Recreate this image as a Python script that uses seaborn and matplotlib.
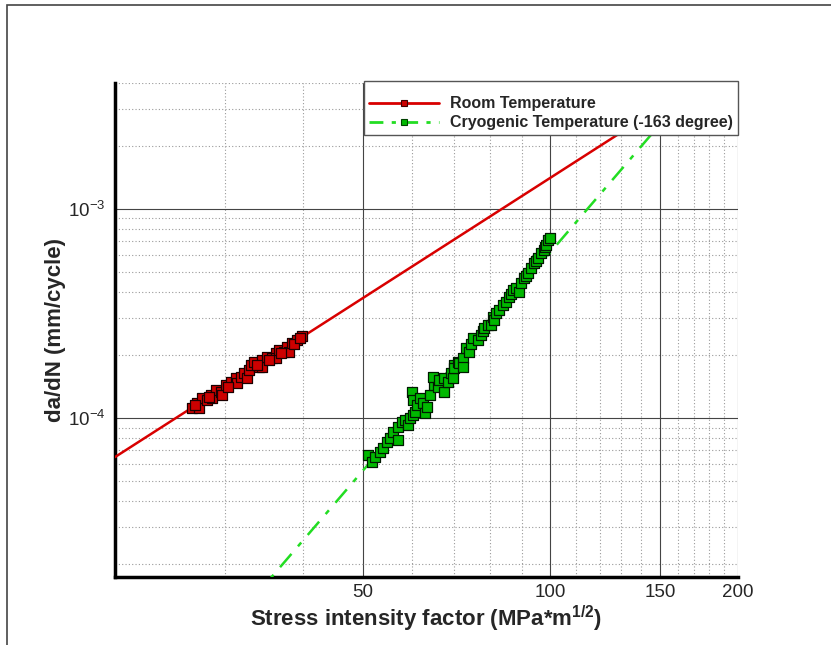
import matplotlib
matplotlib.use('Agg')
import matplotlib.pyplot as plt
from matplotlib.lines import Line2D
from matplotlib.patches import Rectangle
from matplotlib.ticker import FixedLocator, NullFormatter, LogLocator
import pandas as pd
import seaborn as sns

# room temperature test data (delta K, da/dN)
room_k = [26.54, 27.04, 27.24, 27.55, 28.07, 28.49, 28.60, 29.03, 29.57, 29.69,
          30.12, 30.69, 31.27, 31.39, 31.85, 32.22, 32.58, 32.82, 33.07, 33.44,
          34.07, 34.45, 34.45, 35.10, 35.76, 36.29, 36.29, 36.70, 37.39, 37.81,
          38.09, 38.52, 39.25, 39.99,
          26.90, 28.30, 30.40, 33.80, 35.40, 37.00, 38.80, 39.60]
room_rate = [1.116e-4, 1.180e-4, 1.116e-4, 1.247e-4, 1.219e-4, 1.289e-4, 1.247e-4, 1.361e-4, 1.332e-4, 1.289e-4,
             1.439e-4, 1.487e-4, 1.554e-4, 1.470e-4, 1.571e-4, 1.642e-4, 1.554e-4, 1.697e-4, 1.793e-4, 1.853e-4,
             1.754e-4, 1.894e-4, 1.754e-4, 1.958e-4, 1.937e-4, 2.046e-4, 1.937e-4, 2.115e-4, 2.069e-4, 2.186e-4,
             2.069e-4, 2.285e-4, 2.361e-4, 2.468e-4,
             1.150e-4, 1.260e-4, 1.400e-4, 1.800e-4, 1.900e-4, 2.050e-4, 2.250e-4, 2.400e-4]

# cryogenic (-163 C) test data
cryo_k = [50.94, 51.71, 52.28, 53.27, 53.87, 54.67, 55.29, 55.91, 56.96, 56.96,
          57.82, 58.48, 59.13, 59.58, 60.24, 60.69, 60.02, 60.24, 61.15, 61.83,
          62.53, 62.99, 63.47, 64.18, 64.91, 64.67, 65.88, 66.13, 67.36, 67.36,
          68.38, 69.15, 69.66, 69.92, 69.92, 70.97, 71.23, 72.30, 72.30, 73.11,
          73.94, 74.50, 75.05, 76.47, 77.32, 77.80, 78.20, 79.36, 80.27, 80.87,
          81.30, 81.78, 82.69, 83.94, 84.89, 85.84, 86.50, 87.13, 88.10, 89.09,
          89.74, 90.76, 91.40, 92.13, 93.16, 94.21, 94.90, 95.63, 96.69, 97.79,
          98.00, 98.51, 99.24, 100.0]
cryo_rate = [6.65e-5, 6.16e-5, 6.51e-5, 6.88e-5, 7.19e-5, 7.68e-5, 8.02e-5, 8.57e-5, 7.85e-5, 9.06e-5,
             9.57e-5, 9.78e-5, 9.26e-5, 1.000e-4, 1.034e-4, 1.068e-4, 1.332e-4, 1.219e-4, 1.154e-4, 1.247e-4,
             1.180e-4, 1.057e-4, 1.129e-4, 1.289e-4, 1.439e-4, 1.571e-4, 1.407e-4, 1.520e-4, 1.332e-4, 1.554e-4,
             1.487e-4, 1.642e-4, 1.554e-4, 1.793e-4, 1.735e-4, 1.853e-4, 1.833e-4, 1.937e-4, 1.754e-4, 2.162e-4,
             2.069e-4, 2.250e-4, 2.414e-4, 2.361e-4, 2.495e-4, 2.600e-4, 2.696e-4, 2.786e-4, 2.786e-4, 3.043e-4,
             2.950e-4, 3.180e-4, 3.287e-4, 3.473e-4, 3.589e-4, 3.794e-4, 3.900e-4, 4.097e-4, 4.188e-4, 4.008e-4,
             4.425e-4, 4.677e-4, 4.800e-4, 4.941e-4, 5.221e-4, 5.516e-4, 5.650e-4, 5.830e-4, 6.160e-4, 6.366e-4,
             6.600e-4, 6.727e-4, 7.108e-4, 7.266e-4]

# fitted Paris-law lines (straight on log-log), end points
room_fit_k = [20, 200]
room_fit_rate = [6.5e-5, 5.3e-3]
cryo_fit_k = [30, 200]
cryo_fit_rate = [9.5e-6, 6.9e-3]

x_major = [50, 100, 150, 200]
x_minor = [30, 40, 60, 70, 80, 90, 110, 120, 130, 140, 160, 170, 180, 190]
y_major = [1e-4, 1e-3]
y_labels = [r'$10^{-4}$', r'$10^{-3}$']
series_names = ['Room Temperature', 'Cryogenic Temperature (-163 degree)']

red_line, red_mark = '#d80000', '#cc0000'
green_line, green_mark = '#22dd22', '#00b800'

sns.set_style('white')
plt.rcParams['font.family'] = ['Liberation Sans', 'DejaVu Sans']
plt.rcParams['mathtext.fontset'] = 'custom'
plt.rcParams['mathtext.rm'] = 'Liberation Sans'
plt.rcParams['mathtext.bf'] = 'Liberation Sans:bold'
plt.rcParams['mathtext.default'] = 'regular'

fig = plt.figure(figsize=(8.31, 6.45), dpi=100)
ax = fig.add_axes([115 / 831, 68 / 645, 623 / 831, 494 / 645])
ax.set_xscale('log')
ax.set_yscale('log')

room_fit = pd.DataFrame({'k': room_fit_k, 'rate': room_fit_rate})
cryo_fit = pd.DataFrame({'k': cryo_fit_k, 'rate': cryo_fit_rate})
room = pd.DataFrame({'k': room_k, 'rate': room_rate})
cryo = pd.DataFrame({'k': cryo_k, 'rate': cryo_rate})

sns.lineplot(data=room_fit, x='k', y='rate', ax=ax, color=red_line, lw=1.8, sort=False, zorder=3)
sns.lineplot(data=cryo_fit, x='k', y='rate', ax=ax, color=green_line, lw=1.8, sort=False,
             linestyle=(0, (7, 4, 2, 4)), zorder=3)
sns.scatterplot(data=room, x='k', y='rate', ax=ax, marker='s', s=44, color=red_mark,
                edgecolor='#1a0000', linewidth=0.9, zorder=4, legend=False)
sns.scatterplot(data=cryo, x='k', y='rate', ax=ax, marker='s', s=44, color=green_mark,
                edgecolor='#001a00', linewidth=0.9, zorder=4, legend=False)

ax.set_xlim(20, 200)
ax.set_ylim(1.735e-5, 4e-3)

ax.xaxis.set_major_locator(FixedLocator(x_major))
ax.xaxis.set_minor_locator(FixedLocator(x_minor))
ax.set_xticklabels([str(v) for v in x_major])
ax.xaxis.set_minor_formatter(NullFormatter())
ax.yaxis.set_major_locator(FixedLocator(y_major))
ax.set_yticklabels(y_labels)
ax.yaxis.set_minor_locator(LogLocator(base=10, subs=range(2, 10), numticks=20))
ax.yaxis.set_minor_formatter(NullFormatter())

ax.set_axisbelow(True)
ax.grid(which='major', color='#444444', lw=0.8, ls='-')
ax.grid(which='minor', color='#9a9a9a', lw=0.8, ls=(0, (1, 2)))

for side in ['top', 'right']:
    ax.spines[side].set_visible(False)
for side in ['left', 'bottom']:
    ax.spines[side].set_linewidth(2.5)
    ax.spines[side].set_color('black')

ax.tick_params(which='major', direction='in', length=6, width=2.2, labelsize=13.5,
               color='black', top=False, right=False)
ax.tick_params(axis='y', which='major', pad=7)
ax.tick_params(axis='x', which='major', pad=5)
ax.tick_params(which='minor', direction='in', length=3, width=1, color='black',
               top=False, right=False)

ax.set_xlabel(r'Stress intensity factor (MPa*m$^{1/2}$)', fontsize=16, fontweight='bold')
ax.set_ylabel('da/dN (mm/cycle)', fontsize=16, fontweight='bold')
ax.xaxis.set_label_coords(0.5, -0.055)
ax.yaxis.set_label_coords(-0.078, 0.5)

handles = [
    Line2D([], [], color=red_line, lw=2, marker='s', markersize=5,
           markerfacecolor=red_mark, markeredgecolor='#400000', markeredgewidth=0.8),
    Line2D([], [], color=green_line, lw=2, ls=(0, (5, 3, 1.5, 3)), marker='s', markersize=5,
           markerfacecolor=green_mark, markeredgecolor='#004000', markeredgewidth=0.8),
]
leg = ax.legend(handles, series_names, loc='upper right', bbox_to_anchor=(1.0, 1.005),
                frameon=True, fancybox=False, edgecolor='#555555', framealpha=1,
                prop={'weight': 'bold', 'size': 11.5}, handlelength=4.4, handletextpad=0.7,
                borderpad=0.3, labelspacing=0.25, borderaxespad=0, numpoints=1,
                title=' ', title_fontsize=5)
leg.get_frame().set_linewidth(1.0)
leg.set_zorder(10)

# outer page frame
fig.add_artist(Rectangle((7 / 831, -0.2), 1.0, 0.2 + 640 / 645, transform=fig.transFigure,
                         fill=False, edgecolor='#444444', lw=1.2, clip_on=False))

fig.savefig('out.png', dpi=100)
